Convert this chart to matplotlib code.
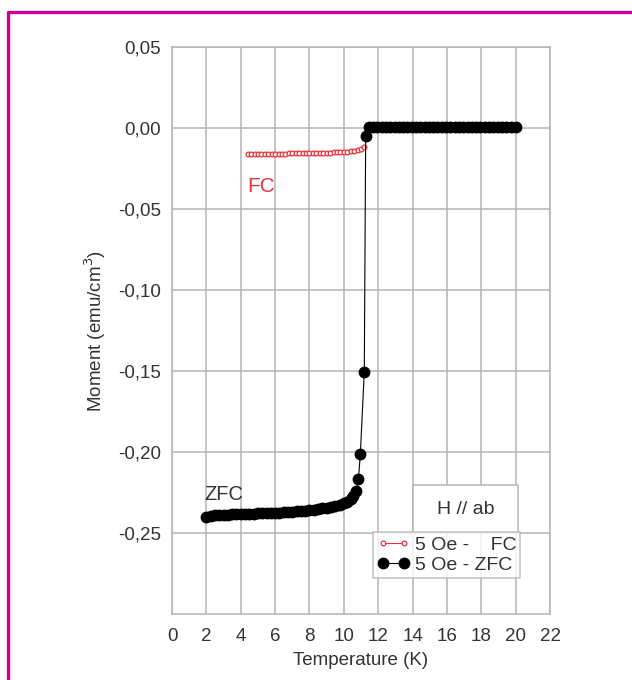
import matplotlib
matplotlib.use("Agg")
import matplotlib.pyplot as plt
from matplotlib.lines import Line2D
from matplotlib.patches import Rectangle

plt.rcParams['font.family'] = ['Liberation Sans', 'DejaVu Sans']

# ZFC curve, 5 Oe (temperature in K, moment in emu/cm3)
zfc_temp = [2.0, 2.25, 2.5, 2.75, 3.0, 3.25, 3.5, 3.75, 4.0, 4.25, 4.5, 4.75,
            5.0, 5.25, 5.5, 5.75, 6.0, 6.25, 6.5, 6.75, 7.0, 7.25, 7.5, 7.75,
            8.0, 8.25, 8.5, 8.75, 9.0, 9.25, 9.5, 9.75, 10.0, 10.2, 10.4, 10.55,
            10.7, 10.85, 10.96, 11.19, 11.27, 11.45,
            11.7, 11.95, 12.2, 12.45, 12.7, 12.95, 13.2, 13.45, 13.7, 13.95,
            14.2, 14.45, 14.7, 14.95, 15.2, 15.45, 15.7, 15.95, 16.2, 16.45,
            16.7, 16.95, 17.2, 17.45, 17.7, 17.95, 18.2, 18.45, 18.7, 18.95,
            19.2, 19.45, 19.7, 20.0]
zfc_moment = [-0.2400, -0.2395, -0.2392, -0.2390, -0.2388, -0.2386, -0.2385,
              -0.2384, -0.2383, -0.2382, -0.2381, -0.2380, -0.2379, -0.2378,
              -0.2377, -0.2376, -0.2375, -0.2374, -0.2373, -0.2371, -0.2369,
              -0.2367, -0.2365, -0.2362, -0.2359, -0.2356, -0.2352, -0.2348,
              -0.2343, -0.2338, -0.2332, -0.2325, -0.2316, -0.2306, -0.2290,
              -0.2270, -0.2240, -0.2165, -0.2013, -0.1504, -0.0050, 0.0003,
              0.0004, 0.0004, 0.0004, 0.0004, 0.0004, 0.0004, 0.0004, 0.0004,
              0.0004, 0.0004, 0.0004, 0.0004, 0.0004, 0.0004, 0.0004, 0.0004,
              0.0004, 0.0004, 0.0004, 0.0004, 0.0004, 0.0004, 0.0004, 0.0004,
              0.0004, 0.0004, 0.0004, 0.0004, 0.0004, 0.0004, 0.0004, 0.0004,
              0.0004, 0.0004]

# FC curve, 5 Oe
fc_temp = [4.4, 4.6, 4.8, 5.0, 5.2, 5.4, 5.6, 5.8, 6.0, 6.2, 6.4, 6.6, 6.8,
           7.0, 7.2, 7.4, 7.6, 7.8, 8.0, 8.2, 8.4, 8.6, 8.8, 9.0, 9.2, 9.4,
           9.6, 9.8, 10.0, 10.2, 10.4, 10.6, 10.8, 11.0, 11.15]
fc_moment = [-0.0158, -0.0158, -0.0158, -0.0158, -0.0158, -0.0158, -0.0158,
             -0.0158, -0.0158, -0.0158, -0.0158, -0.0158, -0.0157, -0.0157,
             -0.0157, -0.0157, -0.0156, -0.0156, -0.0156, -0.0155, -0.0155,
             -0.0154, -0.0154, -0.0153, -0.0152, -0.0151, -0.0150, -0.0149,
             -0.0147, -0.0146, -0.0144, -0.0141, -0.0137, -0.0130, -0.0118]

x_ticks = [0, 2, 4, 6, 8, 10, 12, 14, 16, 18, 20, 22]
y_ticks = [-0.25, -0.20, -0.15, -0.10, -0.05, 0.00, 0.05]
y_labels = ['-0,25', '-0,20', '-0,15', '-0,10', '-0,05', '0,00', '0,05']

grid_col = '#b4b4b4'
text_col = '#333333'

fig = plt.figure(figsize=(6.32, 6.80), dpi=100)
ax = fig.add_axes([0.2722, 0.0971, 0.5981, 0.8338])

ax.plot(fc_temp, fc_moment, '-o', color='#e8303a', lw=0.8, ms=3.4,
        mfc='white', mec='#e8303a', mew=0.9, label='5 Oe -    FC', zorder=4)
ax.plot(zfc_temp, zfc_moment, '-o', color='black', lw=0.8, ms=7.5,
        mfc='black', mec='black', label='5 Oe - ZFC', zorder=5)

ax.set_xlim(0, 22)
ax.set_ylim(-0.30, 0.05)
ax.set_xticks(x_ticks)
ax.set_yticks(y_ticks)
ax.set_yticklabels(y_labels)
ax.grid(True, color=grid_col, lw=1.1)
ax.set_axisbelow(True)
ax.tick_params(length=0, labelsize=13.5, labelcolor=text_col, pad=8)
ax.tick_params(axis='x', pad=10)
for s in ax.spines.values():
    s.set_color(grid_col)
    s.set_linewidth(1.1)

ax.set_xlabel('Temperature (K)', fontsize=13.5, color=text_col, labelpad=5)
ax.set_ylabel('Moment (emu/cm$^3$)', fontsize=13.5, color=text_col, labelpad=7)

ax.text(5.2, -0.036, 'FC', color='#e8303a', fontsize=15, ha='center', va='center')
ax.text(1.9, -0.2265, 'ZFC', color=text_col, fontsize=14.5, ha='left', va='center')

# boxed field direction note
ax.add_patch(Rectangle((0.638, 0.143), 0.277, 0.085, transform=ax.transAxes,
                       facecolor='white', edgecolor=grid_col, lw=1.1, zorder=3))
ax.text(0.7765, 0.185, 'H // ab', transform=ax.transAxes, fontsize=14,
        color=text_col, ha='center', va='center', zorder=6)

leg = ax.legend(loc='lower left', bbox_to_anchor=(0.532, 0.064), numpoints=2,
                fontsize=14, frameon=True, fancybox=False, handlelength=1.7,
                handletextpad=0.25, borderpad=0.2, labelspacing=0.12,
                borderaxespad=0)
leg.get_frame().set_edgecolor(grid_col)
leg.get_frame().set_linewidth(1.1)
for t in leg.get_texts():
    t.set_color(text_col)

# magenta frame
fig.add_artist(Line2D([8 / 632, 8 / 632, 1.0], [0.0, 1 - 12 / 680, 1 - 12 / 680],
                      transform=fig.transFigure, color='#cc0099', lw=2.4))

fig.savefig('out.png', dpi=100)
